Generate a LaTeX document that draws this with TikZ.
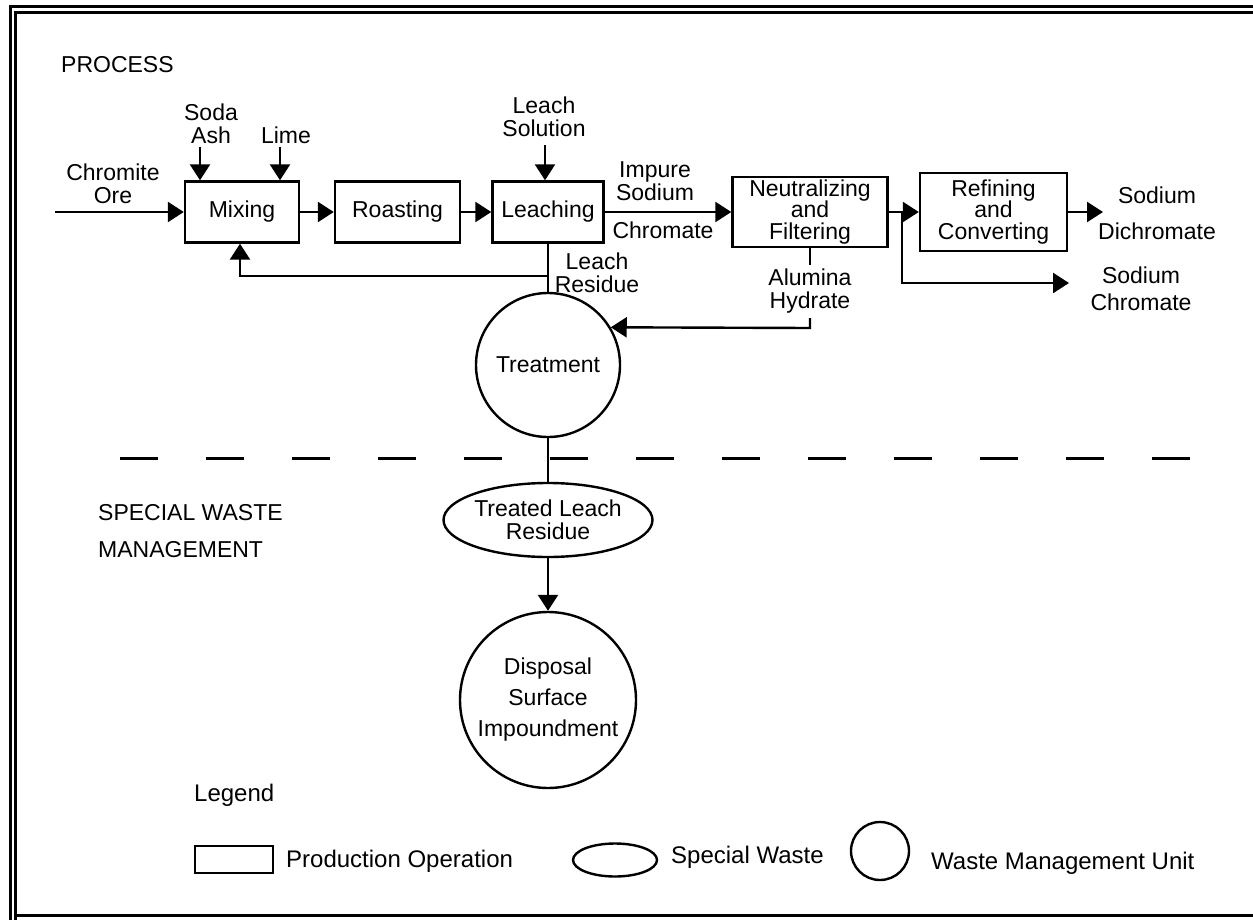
\documentclass[tikz,border=0pt]{standalone}
\usepackage{fontspec}
\setmainfont{Liberation Sans}
\usetikzlibrary{arrows.meta,shapes.geometric,calc}
\begin{document}
\begin{tikzpicture}[x=0.5pt,y=-0.5pt,
  line width=1.2pt,
  every node/.style={font=\fontsize{11.5}{11.5}\selectfont, inner sep=0pt, align=center},
  boxtext/.style={font=\fontsize{11.5}{10.8}\selectfont},
  legtext/.style={font=\fontsize{12}{13}\selectfont, anchor=west},
  pbox/.style={draw, rectangle, line width=1.2pt},
  wcirc/.style={draw, circle, line width=1.2pt},
  wellip/.style={draw, ellipse, line width=1.2pt},
  flow/.style={-{Triangle[length=8pt,width=10pt]}},
  framel/.style={line width=1.5pt},
  sep/.style={line width=1.5pt, dash pattern=on 19pt off 24pt}
]
\useasboundingbox (0,0) rectangle (1253,920);

% frame
\draw[framel] (10,920) -- (10,7) -- (1253,7);
\draw[framel] (15,920) -- (15,13) -- (1253,13);
\draw[framel] (15,915) -- (1253,915);

% process boxes
\node[pbox, minimum width=57pt, minimum height=30.5pt] (mix) at (242,212) {Mixing};
\node[pbox, minimum width=62.5pt, minimum height=30.5pt] (roast) at (397.5,212) {Roasting};
\node[pbox, minimum width=55.5pt, minimum height=30.5pt] (leach) at (548,212) {Leaching};
\node[pbox, boxtext, minimum width=77.5pt, minimum height=35pt] (neut) at (810,212) {Neutralizing\\and\\Filtering};
\node[pbox, boxtext, minimum width=73.5pt, minimum height=39pt] (ref) at (993.5,212) {Refining\\and\\Converting};

% waste units
\node[wcirc, minimum size=72pt] (treat) at (548,365) {Treatment};
\node[wellip, minimum width=104.5pt, minimum height=37pt] (tlr) at (548,520) {Treated Leach\\Residue};
\node[wcirc, minimum size=88pt] (disp) at (548,700) {Disposal\\[4pt]Surface\\[4pt]Impoundment};

% labels
\node[anchor=west] (proc) at (60,65) {PROCESS};
\node (chrom) at (113,183.5) {Chromite\\Ore};
\node (soda) at (211,123.5) {Soda\\Ash};
\node (lime) at (286,135) {Lime};
\node (lsol) at (544,117) {Leach\\Solution};
\node (imp) at (655,181) {Impure\\Sodium};
\node (chr) at (663,230) {Chromate};
\node (lres) at (597,272.5) {Leach\\Residue};
\node (alum) at (810,291) {Alumina\\Hydrate};
\node (sdi) at (1157,213) {Sodium\\[6.5pt]Dichromate};
\node (sch) at (1141,288.5) {Sodium\\[2pt]Chromate};
\node[anchor=west] (sw1) at (97,513) {SPECIAL WASTE};
\node[anchor=west] (sw2) at (97,550) {MANAGEMENT};

% connectors
\coordinate (chromIn) at (55,212);
\draw[flow] (chromIn) -- (mix.west);
\coordinate (sodaIn) at (200,147);
\draw[flow] (sodaIn) -- (sodaIn |- mix.north);
\coordinate (limeIn) at (280,147);
\draw[flow] (limeIn) -- (limeIn |- mix.north);
\draw[flow] (mix.east) -- (roast.west);
\draw[flow] (roast.east) -- (leach.west);
\coordinate (lsIn) at (545,145);
\draw[flow] (lsIn) -- (lsIn |- leach.north);
\draw[flow] (leach.east) -- (neut.west);
\draw[flow] (neut.east) -- (ref.west);
\coordinate (brk) at (902,212);
\coordinate (schEnd) at (1069,283);
\draw[flow] (brk) |- (schEnd);
\coordinate (sdiEnd) at (1103,212);
\draw[flow] (ref.east) -- (sdiEnd);

\draw (leach.south) -- (treat.north);
\coordinate (recyc) at (548,276);
\coordinate (recycL) at (240,276);
\draw[flow] (recyc) -- (recycL) -- (recycL |- mix.south);

\coordinate (alTop) at (810,265);
\draw (neut.south) -- (alTop);
\coordinate (alBot) at (810,318);
\coordinate (alTurn) at (810,328);
\draw[flow] (alBot) -- (alTurn) -- (treat.31);

\draw (treat.south) -- (tlr.north);
\draw[flow] (tlr.south) -- (disp.north);

% separator
\coordinate (sepL) at (120,458);
\coordinate (sepR) at (1190,458);
\draw[sep] (sepL) -- (sepR);

% legend
\node[legtext] (leg) at (193,795) {Legend};
\node[pbox, minimum width=39pt, minimum height=13.5pt] (lgbox) at (234,859.5) {};
\node[legtext] (lgboxt) at (285,861) {Production Operation};
\node[wellip, minimum width=42pt, minimum height=16.5pt] (lgell) at (615,860) {};
\node[legtext] (lgellt) at (670,857) {Special Waste};
\node[wcirc, minimum size=29pt] (lgcirc) at (880,851) {};
\node[legtext] (lgcirct) at (930,863) {Waste Management Unit};
\end{tikzpicture}
\end{document}
